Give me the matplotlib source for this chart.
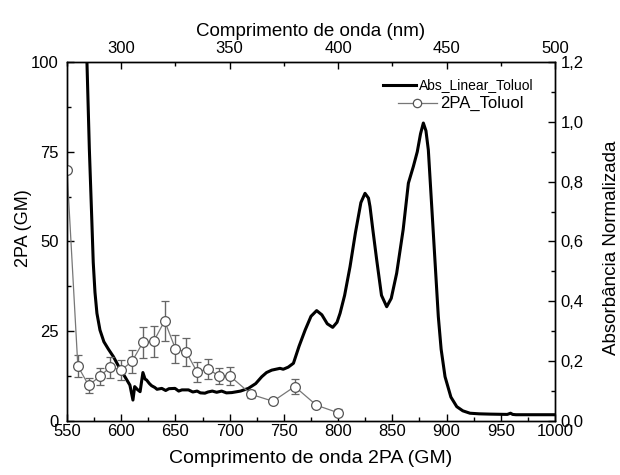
import matplotlib
matplotlib.use("Agg")
import matplotlib.pyplot as plt
from matplotlib.ticker import MultipleLocator, FuncFormatter

plt.rcParams['font.family'] = ['Liberation Sans', 'DejaVu Sans']

# 2PA data (bottom x / left y)
tpa_wl = [550, 560, 570, 580, 590, 600, 610, 620, 630, 640, 650, 660, 670, 680,
          690, 700, 720, 740, 760, 780, 800]
tpa_gm = [70, 15.3, 9.9, 12.4, 15.0, 14.2, 16.6, 21.9, 22.2, 27.9, 20.1, 19.2,
          13.6, 14.6, 12.5, 12.6, 7.4, 5.5, 9.6, 4.4, 2.3]
tpa_err = [0, 3.0, 2.0, 2.5, 2.9, 2.8, 3.3, 4.4, 4.4, 5.6, 3.9, 3.9, 2.8, 2.8,
           2.3, 2.5, 1.1, 0.5, 2.0, 0.5, 1.0]

# Linear absorption (top x / right y)
abs_wl = [283.0, 284.2, 285.3, 286.4, 287.1, 287.9, 288.8, 290.2, 292.0, 294.1,
          296.4, 299.0, 301.7, 304.0, 305.4, 306.2, 307.5, 308.7, 310.0, 311.0,
          311.7, 313.0, 314.0, 315.5, 316.5, 318.7, 320.5, 322.0, 324.8, 326.5,
          328.0, 331.0, 333.0, 335.0, 336.5, 338.6, 340.0, 342.0, 344.0, 346.3,
          348.5, 351.0, 355.0, 358.6, 362.0, 364.8, 367.0, 369.4, 373.2, 374.7,
          377.0, 379.4, 382.0, 384.8, 387.5, 390.1, 392.5, 395.0, 397.5, 399.5,
          400.9, 403.0, 405.5, 408.0, 410.5, 412.4, 414.0, 414.7, 416.0, 417.8,
          420.0, 422.4, 424.5, 427.0, 430.0, 432.4, 434.7, 436.5, 438.0, 439.3,
          440.5, 441.6, 443.9, 446.2, 447.5, 449.3, 452.0, 454.7, 457.5, 460.8,
          465.0, 470.0, 478.0, 479.5, 480.5, 482.0, 490.0, 500.0]
abs_val = [1.40, 1.20, 0.91, 0.68, 0.53, 0.43, 0.36, 0.304, 0.265, 0.240,
           0.215, 0.18, 0.148, 0.12, 0.07, 0.115, 0.105, 0.098, 0.162, 0.14,
           0.137, 0.125, 0.118, 0.112, 0.106, 0.109, 0.102, 0.108, 0.109, 0.100,
           0.104, 0.104, 0.097, 0.100, 0.094, 0.093, 0.097, 0.100, 0.096, 0.100,
           0.094, 0.095, 0.100, 0.109, 0.125, 0.148, 0.162, 0.170, 0.176, 0.173,
           0.180, 0.193, 0.25, 0.304, 0.350, 0.369, 0.355, 0.325, 0.313, 0.33,
           0.36, 0.42, 0.516, 0.63, 0.73, 0.761, 0.745, 0.717, 0.64, 0.538,
           0.42, 0.382, 0.41, 0.494, 0.64, 0.795, 0.851, 0.90, 0.96, 0.996,
           0.97, 0.906, 0.628, 0.349, 0.24, 0.148, 0.08, 0.048, 0.034, 0.026,
           0.024, 0.023, 0.022, 0.026, 0.022, 0.021, 0.021, 0.021]

legend_labels = ['Abs_Linear_Toluol', '2PA_Toluol']

W, H = 620, 475
fig = plt.figure(figsize=(W/100, H/100), dpi=100)
L, R, T, B = 67, 555, 62, 421
rect = [L/W, (H-B)/H, (R-L)/W, (B-T)/H]

def axc(px, py):
    return ((px - L) / (R - L), (B - py) / (B - T))

ax_abs = fig.add_axes(rect)
ax = fig.add_axes(rect)
ax.patch.set_alpha(0)

# absorption line
ax_abs.plot(abs_wl, abs_val, color='black', lw=2.2)
ax_abs.set_xlim(275, 500)
ax_abs.set_ylim(0, 1.2)
ax_abs.xaxis.tick_top()
ax_abs.xaxis.set_label_position('top')
ax_abs.yaxis.tick_right()
ax_abs.yaxis.set_label_position('right')
ax_abs.xaxis.set_major_locator(MultipleLocator(50))
ax_abs.xaxis.set_minor_locator(MultipleLocator(25))
ax_abs.yaxis.set_major_locator(MultipleLocator(0.2))
ax_abs.yaxis.set_minor_locator(MultipleLocator(0.1))
ax_abs.yaxis.set_major_formatter(FuncFormatter(lambda v, p: f"{v:.1f}".replace('.', ',')))
ax_abs.xaxis.set_major_formatter(FuncFormatter(lambda v, p: f"{v:.0f}" if v >= 300 else ""))
ax_abs.set_xlabel('Comprimento de onda (nm)', fontsize=13.5, labelpad=4)
ax_abs.set_ylabel('Absorbância Normalizada', fontsize=13.5)
ax_abs.yaxis.set_label_coords(*axc(603, 248))

# 2PA data
ax.errorbar(tpa_wl, tpa_gm, yerr=tpa_err, color='#777777', ecolor='#666666',
            lw=0.9, elinewidth=1.0, capsize=3, capthick=1.0,
            marker='o', ms=7, mfc='white', mec='#555555', mew=0.9)
ax.set_xlim(550, 1000)
ax.set_ylim(0, 100)
ax.xaxis.set_major_locator(MultipleLocator(50))
ax.xaxis.set_minor_locator(MultipleLocator(25))
ax.yaxis.set_major_locator(MultipleLocator(25))
ax.yaxis.set_minor_locator(MultipleLocator(12.5))
ax.set_xlabel('Comprimento de onda 2PA (GM)', fontsize=14, labelpad=8)
ax.set_ylabel('2PA (GM)', fontsize=13)
ax.yaxis.set_label_coords(*axc(32, 228))

for a in (ax, ax_abs):
    a.tick_params(which='both', direction='in', labelsize=12, width=1)
    a.tick_params(which='major', length=5)
    a.tick_params(which='minor', length=3)
    for s in a.spines.values():
        s.set_linewidth(1.0)
ax.tick_params(axis='both', which='both', top=False, right=False)
ax_abs.tick_params(axis='both', which='both', bottom=False, left=False)
ax.tick_params(axis='x', pad=2)
ax.tick_params(axis='y', pad=6)
ax_abs.tick_params(axis='y', pad=4)
ax_abs.tick_params(axis='x', pad=4)

# legend drawn manually (rows have different text sizes)
x0, y0 = axc(383, 85)
x1, _ = axc(416, 85)
ax.plot([x0, x1], [y0, y0], transform=ax.transAxes, color='black', lw=2.2, clip_on=False)
tx, _ = axc(419, 85)
ax.text(tx, y0, legend_labels[0], transform=ax.transAxes, fontsize=10, va='center', ha='left')

x0, y1 = axc(398, 103)
x1, _ = axc(437, 103)
xm, _ = axc(417, 103)
ax.plot([x0, x1], [y1, y1], transform=ax.transAxes, color='#777777', lw=0.9, clip_on=False)
ax.plot([xm], [y1], transform=ax.transAxes, marker='o', ms=6, mfc='white',
        mec='#555555', mew=0.9, clip_on=False)
tx, _ = axc(440, 103)
ax.text(tx, y1, legend_labels[1], transform=ax.transAxes, fontsize=12, va='center', ha='left')

fig.savefig('out.png', dpi=100)
